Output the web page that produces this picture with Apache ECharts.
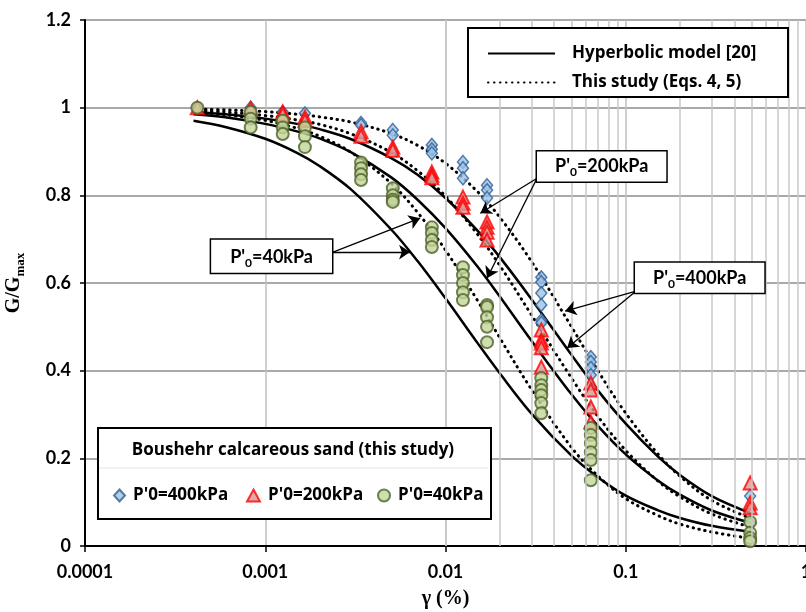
<!DOCTYPE html>
<html>
<head>
<meta charset="utf-8">
<script src="https://cdn.jsdelivr.net/npm/echarts@6/dist/echarts.min.js"></script>
<style>
html, body { margin: 0; padding: 0; background: #fff; }
#chart { width: 806px; height: 612px; }
</style>
</head>
<body>
<div id="chart"></div>
<script>
// measured points, gamma (%) and G/Gmax
var p400x = [0.00042, 0.00083, 0.00125, 0.00166, 0.0034, 0.0034, 0.0051, 0.0051, 0.0084, 0.0084, 0.0084,
    0.0125, 0.0125, 0.0125, 0.017, 0.017, 0.017, 0.034, 0.034, 0.034, 0.034, 0.034, 0.034,
    0.064, 0.064, 0.064, 0.064, 0.49, 0.49];
var p400y = [1.0, 1.0, 0.99, 0.987, 0.965, 0.96, 0.949, 0.937, 0.915, 0.905, 0.896,
    0.876, 0.862, 0.839, 0.823, 0.812, 0.794, 0.613, 0.602, 0.577, 0.55, 0.515, 0.509,
    0.431, 0.42, 0.406, 0.39, 0.114, 0.052];

var p200x = [0.00042, 0.00083, 0.00125, 0.00125, 0.00166, 0.00166, 0.0034, 0.0034, 0.0051, 0.0051,
    0.0084, 0.0084, 0.0084, 0.0125, 0.0125, 0.0125, 0.017, 0.017, 0.017, 0.017,
    0.034, 0.034, 0.034, 0.034, 0.034, 0.064, 0.064, 0.064, 0.064, 0.49, 0.49, 0.49];
var p200y = [1.0, 0.998, 0.99, 0.985, 0.978, 0.97, 0.945, 0.935, 0.91, 0.903,
    0.853, 0.846, 0.84, 0.796, 0.782, 0.773, 0.739, 0.727, 0.716, 0.698,
    0.493, 0.47, 0.463, 0.452, 0.408, 0.372, 0.356, 0.317, 0.283, 0.144, 0.098, 0.087];

var p40x = [0.00042, 0.00083, 0.00083, 0.00083, 0.00125, 0.00125, 0.00125, 0.00166, 0.00166, 0.00166,
    0.0034, 0.0034, 0.0034, 0.0034, 0.0051, 0.0051, 0.0051, 0.0051, 0.0084, 0.0084, 0.0084, 0.0084,
    0.0125, 0.0125, 0.0125, 0.0125, 0.0125, 0.017, 0.017, 0.017, 0.017, 0.017,
    0.034, 0.034, 0.034, 0.034, 0.034, 0.034, 0.064, 0.064, 0.064, 0.064, 0.064, 0.064,
    0.49, 0.49, 0.49, 0.49];
var p40y = [1.0, 0.99, 0.975, 0.955, 0.97, 0.955, 0.94, 0.955, 0.935, 0.91,
    0.875, 0.862, 0.848, 0.835, 0.816, 0.8, 0.79, 0.785, 0.727, 0.714, 0.698, 0.682,
    0.636, 0.618, 0.6, 0.579, 0.561, 0.55, 0.545, 0.522, 0.5, 0.465,
    0.383, 0.367, 0.356, 0.344, 0.326, 0.303, 0.269, 0.253, 0.235, 0.214, 0.196, 0.15,
    0.055, 0.03, 0.018, 0.011];

// model curves
var curveX = [0.0004, 0.0006, 0.001, 0.0015, 0.002, 0.003, 0.005, 0.007, 0.01, 0.015,
    0.02, 0.03, 0.05, 0.07, 0.1, 0.15, 0.2, 0.3, 0.5];
var hyp400 = [0.990, 0.985, 0.975, 0.963, 0.951, 0.928, 0.885, 0.847, 0.794, 0.720,
    0.659, 0.563, 0.436, 0.355, 0.279, 0.205, 0.162, 0.114, 0.074];
var hyp200 = [0.985, 0.978, 0.963, 0.946, 0.930, 0.898, 0.841, 0.790, 0.725, 0.638,
    0.569, 0.468, 0.346, 0.274, 0.209, 0.150, 0.117, 0.081, 0.052];
var hyp40 = [0.970, 0.956, 0.929, 0.897, 0.867, 0.813, 0.722, 0.650, 0.565, 0.464,
    0.394, 0.302, 0.206, 0.157, 0.115, 0.082, 0.064, 0.046, 0.032];
var study400 = [0.997, 0.995, 0.991, 0.985, 0.979, 0.967, 0.941, 0.914, 0.873, 0.809,
    0.750, 0.649, 0.500, 0.400, 0.303, 0.211, 0.159, 0.104, 0.062];
var study200 = [0.994, 0.990, 0.982, 0.972, 0.962, 0.940, 0.898, 0.856, 0.798, 0.712,
    0.640, 0.527, 0.383, 0.296, 0.218, 0.149, 0.112, 0.073, 0.042];
var study40 = [0.990, 0.984, 0.971, 0.953, 0.935, 0.898, 0.827, 0.761, 0.675, 0.561,
    0.475, 0.357, 0.225, 0.160, 0.108, 0.070, 0.050, 0.032, 0.017];

var decades = [0.0001, 0.001, 0.01, 0.1];
var minorSteps = [2, 3, 4, 5, 6, 7, 8, 9];

var minorGrid = [];
decades.forEach(function (d) {
    minorSteps.forEach(function (m) {
        minorGrid.push(Number((m * d).toPrecision(2)));
    });
});

var FONT = 'Lato';
var LEG_FONT = 'Open Sans';
var HYP = 'Hyperbolic model [20]';
var STUDY = 'This study (Eqs. 4, 5)';

function pairs(xs, ys) {
    return xs.map(function (x, i) { return [x, ys[i]]; });
}

function curve(name, values, dotted) {
    return {
        type: 'line',
        name: name,
        data: pairs(curveX, values),
        smooth: 0.35,
        symbol: 'none',
        showSymbol: false,
        silent: true,
        animation: false,
        z: 3,
        itemStyle: { color: '#000' },
        lineStyle: dotted ? {
            color: '#000', width: 3, type: [0.5, 5.5], cap: 'round'
        } : {
            color: '#000', width: 2.5, type: 'solid'
        }
    };
}

var annRich = {
    a: { fontFamily: FONT, fontWeight: 'bold', fontSize: 18, color: '#000', lineHeight: 24 },
    s: { fontFamily: FONT, fontWeight: 'bold', fontSize: 12, color: '#000', lineHeight: 12, verticalAlign: 'bottom' }
};

function annotate(serie, box, pad, txt, arrows) {
    serie.markPoint = {
        silent: true,
        animation: false,
        symbol: 'circle',
        symbolSize: 1,
        itemStyle: { color: 'rgba(0,0,0,0)' },
        label: {
            show: true, position: 'inside', color: '#000', formatter: txt, rich: annRich,
            backgroundColor: '#fff', borderColor: '#000', borderWidth: 1.5, padding: pad
        },
        data: [{ coord: box }]
    };
    serie.markLine = {
        silent: true,
        animation: false,
        symbol: ['none', 'arrow'],
        symbolSize: 11,
        label: { show: false },
        lineStyle: { color: '#000', width: 1.3, type: 'solid' },
        data: arrows.map(function (a) { return [{ coord: a[0] }, { coord: a[1] }]; })
    };
    return serie;
}

var s400 = annotate(curve(HYP, hyp400, false), [0.257, 0.612], [3, 18, 3, 18],
    "{a|P'}{s|0}{a|=400kPa}",
    [[[0.1142, 0.5815], [0.0461, 0.536]], [[0.1142, 0.5815], [0.0473, 0.4515]]]);
var s200 = annotate(curve(HYP, hyp200, false), [0.0735, 0.8655], [3, 18, 3, 18],
    "{a|P'}{s|0}{a|=200kPa}",
    [[[0.0322, 0.839], [0.0156, 0.759]], [[0.0322, 0.839], [0.0170, 0.611]]]);
var s40 = annotate(curve(HYP, hyp40, false), [0.001084, 0.661], [5, 19, 4, 19],
    "{a|P'}{s|0}{a|=40kPa}",
    [[[0.002378, 0.6705], [0.00723, 0.748]], [[0.002378, 0.6705], [0.00636, 0.6705]]]);

function points(name, xs, ys, symbol, size, fill, border, bw) {
    return {
        type: 'scatter',
        name: name,
        data: pairs(xs, ys),
        symbol: symbol,
        symbolSize: size,
        silent: true,
        animation: false,
        z: 4,
        itemStyle: { color: fill, borderColor: border, borderWidth: bw }
    };
}

var labelStyle = { fontFamily: FONT, fontWeight: 'bold', fontSize: 18, color: '#000' };
var legendText = { fontFamily: LEG_FONT, fontWeight: 'bold', fontSize: 17, color: '#000' };

var option = {
    backgroundColor: '#fff',
    animation: false,
    grid: { left: 85, right: 0, top: 20, bottom: 66, containLabel: false, outerBoundsMode: 'none' },
    xAxis: {
        type: 'log',
        logBase: 10,
        min: 0.0001,
        max: 1,
        name: 'γ (%)',
        nameLocation: 'middle',
        nameGap: 43,
        nameTextStyle: { fontFamily: 'Liberation Serif', fontWeight: 'bold', fontSize: 20, color: '#000' },
        axisLine: { show: true, onZero: false, lineStyle: { color: '#000', width: 2 } },
        axisTick: { show: true, length: 6, lineStyle: { color: '#000', width: 1.5 } },
        axisLabel: Object.assign({ margin: 17, formatter: function (v) { return String(Number(v.toPrecision(1))); } }, labelStyle),
        splitLine: { show: true, lineStyle: { color: '#bfbfbf', width: 1.5 } }
    },
    yAxis: {
        type: 'value',
        min: 0,
        max: 1.2,
        interval: 0.2,
        name: '{g|G/G}{m|max}',
        nameLocation: 'middle',
        nameGap: 58,
        nameRotate: 90,
        nameTextStyle: {
            rich: {
                g: { fontFamily: 'Liberation Serif', fontWeight: 'bold', fontSize: 20, color: '#000', lineHeight: 26 },
                m: { fontFamily: 'Liberation Serif', fontWeight: 'bold', fontSize: 13, color: '#000', lineHeight: 13, verticalAlign: 'bottom' }
            }
        },
        axisLine: { show: true, lineStyle: { color: '#000', width: 2 } },
        axisTick: { show: true, length: 5, lineStyle: { color: '#000', width: 1.5 } },
        axisLabel: Object.assign({ margin: 14 }, labelStyle),
        splitLine: { show: true, lineStyle: { color: '#8c8c8c', width: 1.5 } }
    },
    legend: [{
        data: [HYP, STUDY],
        orient: 'vertical',
        left: 482,
        top: 40,
        itemWidth: 67,
        itemHeight: 16,
        itemGap: 12,
        selectedMode: false,
        z: 20,
        itemStyle: { opacity: 0 },
        textStyle: Object.assign({ padding: [0, 0, 0, 12] }, legendText)
    }, {
        data: ["P'0=400kPa"], left: 108, top: 482, itemWidth: 11, itemHeight: 12,
        selectedMode: false, z: 20, textStyle: Object.assign({ padding: [0, 0, 0, 3] }, legendText)
    }, {
        data: ["P'0=200kPa"], left: 241, top: 482, itemWidth: 13, itemHeight: 12,
        selectedMode: false, z: 20, textStyle: Object.assign({ padding: [0, 0, 0, 3] }, legendText)
    }, {
        data: ["P'0=40kPa"], left: 372, top: 482, itemWidth: 12, itemHeight: 12,
        selectedMode: false, z: 20, textStyle: Object.assign({ padding: [0, 0, 0, 3] }, legendText)
    }],
    graphic: [
        { type: 'rect', left: 467, top: 27, z: 10, shape: { width: 320, height: 69 },
          style: { fill: '#fff', stroke: '#000', lineWidth: 2 } },
        { type: 'rect', left: 97, top: 427, z: 10, shape: { width: 393, height: 91 },
          style: { fill: '#fff', stroke: '#000', lineWidth: 2 } },
        { type: 'line', z: 11, shape: { x1: 99, y1: 468, x2: 488, y2: 468 },
          style: { stroke: '#e4e4e4', lineWidth: 1 } },
        { type: 'text', z: 11, x: 293, y: 450,
          style: { text: 'Boushehr calcareous sand (this study)', font: 'bold 17px "Open Sans"',
                   fill: '#000', align: 'center', verticalAlign: 'middle' } }
    ],
    series: [
        {
            type: 'line',
            name: 'minor-grid',
            data: [],
            z: 1,
            silent: true,
            markLine: {
                silent: true,
                animation: false,
                symbol: 'none',
                label: { show: false },
                lineStyle: { color: '#c8c8c8', width: 1.5, type: 'solid' },
                data: minorGrid.map(function (v) { return { xAxis: v }; })
            }
        },
        s400, s200, s40,
        curve(STUDY, study400, true),
        curve(STUDY, study200, true),
        curve(STUDY, study40, true),
        points("P'0=400kPa", p400x, p400y, 'diamond', [11, 13], '#9dc3e6', '#2e5f94', 1.5),
        points("P'0=200kPa", p200x, p200y, 'triangle', 13, '#d99694', '#ff0000', 2),
        points("P'0=40kPa", p40x, p40y, 'circle', 12, '#c3d69b', '#4f6228', 2)
    ]
};

var myChart = echarts.init(document.getElementById('chart'));
myChart.setOption(option);
</script>
</body>
</html>
